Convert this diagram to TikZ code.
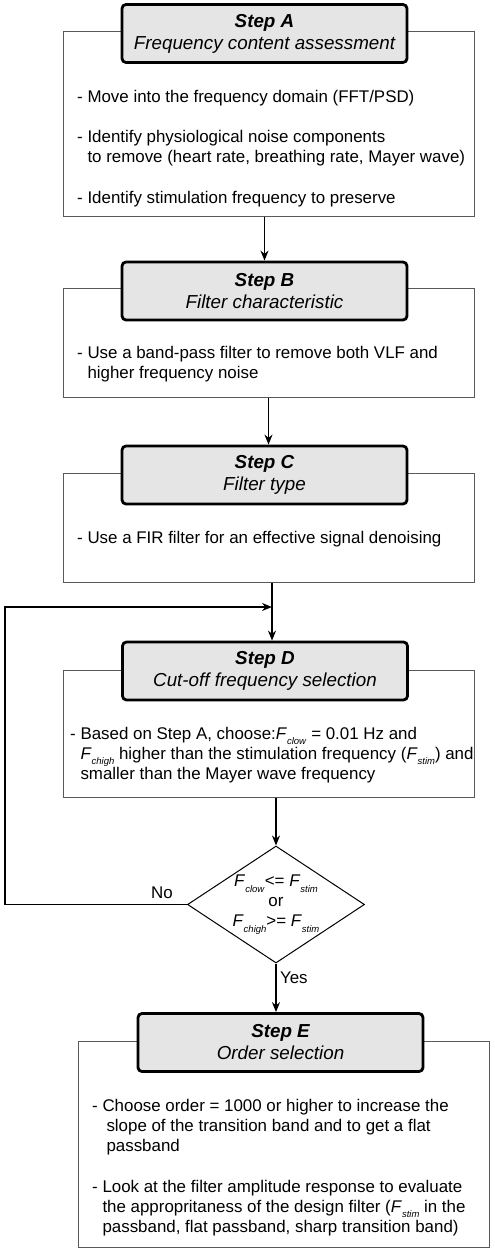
\documentclass[tikz,border=0pt]{standalone}
\usepackage{fontspec}
\setmainfont{Liberation Sans}
\usepackage{tikz}
\usetikzlibrary{shapes.geometric, arrows, arrows.meta}
\tikzstyle{arrow} = [line width=1.5pt,->,>={Stealth[length=10pt,width=8pt]}]
\tikzstyle{stephead} = [draw, line width=2.8pt, rounded corners=4pt, fill=black!10, minimum width=285pt, minimum height=58pt, inner sep=0pt, align=center, font=\fontsize{18.8}{22}\selectfont\itshape]
\tikzstyle{stepbody} = [draw=black!65, line width=1pt, minimum width=411pt, inner sep=0pt]
\tikzstyle{bodytext} = [anchor=west, align=left, inner sep=0pt, font=\fontsize{16.9}{20}\selectfont]
\tikzstyle{decision} = [diamond, draw, line width=1pt, aspect=1.5, minimum width=177pt, minimum height=117pt, inner sep=0pt, align=center, font=\fontsize{16.9}{20}\selectfont]
% frequency symbol with a small italic index
\newcommand{\Fidx}[1]{\textit{F}\raisebox{-0.6ex}{\fontsize{9.5}{9.5}\selectfont\textit{#1}}}

\begin{document}
\begin{tikzpicture}[x=1pt,y=-1pt]
	\useasboundingbox (0,0) rectangle (495,1255);
	% Step boxes:
	% The white box is drawn first, the grey header sits on its top edge
	\node [stepbody, minimum height=184pt] (Abody) at (268.5,124) {};
	\node [stephead] (Ahead) at (264.5,33.5) {\textbf{Step A}\\Frequency content assessment};
	\node [bodytext] (Atext1) at (77,98) {- Move into the frequency domain (FFT/PSD)};
	\node [bodytext] (Atext2) at (77,148) {- Identify physiological noise components\\\hphantom{- }to remove (heart rate, breathing rate, Mayer wave)};
	\node [bodytext] (Atext3) at (77,199) {- Identify stimulation frequency to preserve};
	
	\node [stepbody, minimum height=109pt] (Bbody) at (268.5,342.5) {};
	\node [stephead] (Bhead) at (264.5,291) {\textbf{Step B}\\Filter characteristic};
	\node [bodytext] (Btext) at (77,364) {- Use a band-pass filter to remove both VLF and\\\hphantom{- }higher frequency noise};
	
	\node [stepbody, minimum height=109pt] (Cbody) at (268.5,527.5) {};
	\node [stephead] (Chead) at (264.5,475) {\textbf{Step C}\\Filter type};
	\node [bodytext] (Ctext) at (77,539) {- Use a FIR filter for an effective signal denoising};
	
	\node [stepbody, minimum height=127pt] (Dbody) at (268.5,733.5) {};
	\node [stephead] (Dhead) at (265,671) {\textbf{Step D}\\Cut-off frequency selection};
	\node [bodytext] (Dtext) at (70,755) {- Based on Step A, choose:\Fidx{clow} = 0.01 Hz and\\\hphantom{- }\Fidx{chigh} higher than the stimulation frequency (\Fidx{stim}) and\\\hphantom{- }smaller than the Mayer wave frequency};
	
	% Decision:
	\node [decision] (check) at (276,904.5) {\Fidx{clow}<= \Fidx{stim}\\or\\\Fidx{chigh}>= \Fidx{stim}};
	
	\node [stepbody, minimum height=206pt] (Ebody) at (283.5,1144) {};
	\node [stephead] (Ehead) at (280.5,1042.5) {\textbf{Step E}\\Order selection};
	\node [bodytext] (Etext1) at (92,1127) {- Choose order = 1000 or higher to increase the\\\hphantom{- }\hspace{4pt}slope of the transition band and to get a flat\\\hphantom{- }\hspace{4pt}passband};
	\node [bodytext] (Etext2) at (92,1208) {- Look at the filter amplitude response to evaluate\\\hphantom{- }the appropritaness of the design filter (\Fidx{stim} in the\\\hphantom{- }passband, flat passband, sharp transition band)};
	
	% Connectors:
	\coordinate (corner) at (5,904.5);
	\coordinate (join) at (272,607);
	\draw [arrow] (Abody.south -| Ahead) -- (Bhead.north);
	\draw [arrow] (Bbody.south) -- (Bbody.south |- Chead.north);
	\draw [arrow] (Cbody.south -| join) -- (Dhead.north -| join);
	\draw [arrow] (Dbody.south -| check.north) -- (check.north);
	\draw [arrow] (check.south) -- (check.south |- Ehead.north) node [pos=0.3, right, font=\fontsize{16.9}{20}\selectfont] (yes) {Yes};
	\draw [arrow] (check.west) -- (corner) |- (join);
	\node [font=\fontsize{16.9}{20}\selectfont] (no) at (162,893) {No};
\end{tikzpicture}
\end{document}
